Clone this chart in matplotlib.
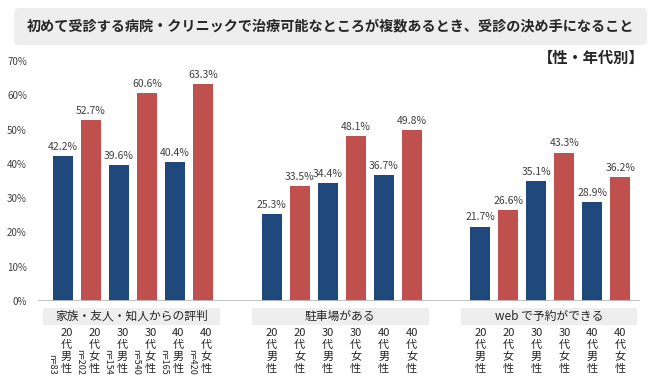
import numpy as np
import matplotlib.pyplot as plt
from matplotlib.patches import FancyBboxPatch, Rectangle
import matplotlib.transforms as mtransforms

plt.rcParams['font.family'] = ['Noto Sans CJK JP', 'DejaVu Sans']

title = '初めて受診する病院・クリニックで治療可能なところが複数あるとき、受診の決め手になること'
subtitle = '【性・年代別】'

groups = ['家族・友人・知人からの評判', '駐車場がある', 'web で予約ができる']
sub_labels = [['20', '代', '男', '性'], ['20', '代', '女', '性'],
              ['30', '代', '男', '性'], ['30', '代', '女', '性'],
              ['40', '代', '男', '性'], ['40', '代', '女', '性']]
n_counts = [83, 202, 154, 540, 165, 420]

reputation = [42.2, 52.7, 39.6, 60.6, 40.4, 63.3]
parking = [25.3, 33.5, 34.4, 48.1, 36.7, 49.8]
web_booking = [21.7, 26.6, 35.1, 43.3, 28.9, 36.2]
values = [reputation, parking, web_booking]

yticks = [0, 10, 20, 30, 40, 50, 60, 70]

BLUE = '#1f497d'
RED = '#c0504d'
GROUP_STEP = 7.45
BAR_W = 0.72

fig = plt.figure(figsize=(6.6, 3.78), dpi=100)
ax = fig.add_axes([38 / 660, 77 / 378, 602 / 660, 240 / 378])


def px_to_axes(py):
    # pixel row in the figure -> axes y fraction (0% line at row 301)
    return (301 - py) / 240


# title box
box = FancyBboxPatch((14 / 660, (378 - 45) / 378), 633 / 660, 37 / 378,
                     boxstyle='round,pad=0,rounding_size=0.008',
                     transform=fig.transFigure, facecolor='#eeeeee',
                     edgecolor='none')
fig.patches.append(box)
fig.text(330 / 660, (378 - 26) / 378, title, ha='center', va='center',
         fontsize=10.2, fontweight='bold', color='#262626')
fig.text(645 / 660, (378 - 58) / 378, subtitle, ha='right', va='center',
         fontsize=11, fontweight='bold', color='#262626')

trans = mtransforms.blended_transform_factory(ax.transData, ax.transAxes)

for g, (name, vals) in enumerate(zip(groups, values)):
    x0 = g * GROUP_STEP
    xs = x0 + np.arange(len(vals))
    colors = [BLUE if i % 2 == 0 else RED for i in range(len(vals))]
    ax.bar(xs, vals, width=BAR_W, color=colors, zorder=2)
    for x, v in zip(xs, vals):
        ax.text(x, v + 1.2, f'{v:.1f}%', ha='center', va='bottom',
                fontsize=7.5, color='#404040')
    # category box
    ax.add_patch(Rectangle((x0 - 0.7, -0.1), 6.3, 0.071, transform=trans,
                           facecolor='#eeeeee', edgecolor='none',
                           clip_on=False))
    ax.text(x0 + 2.45, -0.0645, name, transform=trans, ha='center',
            va='center', fontsize=8.5, color='#262626')
    shift = 0.12 if g == 0 else 0.0
    for i, x in enumerate(xs):
        for k, ch in enumerate(sub_labels[i]):
            ax.text(x + shift, px_to_axes(333.5 + 11.8 * k), ch,
                    transform=trans, ha='center', va='center',
                    fontsize=8, color='#262626')
        if g == 0:
            ax.text(x - 0.4, px_to_axes(375), f'n={n_counts[i]}',
                    transform=trans, ha='center', va='bottom',
                    rotation=-90, fontsize=6.5, color='#262626')

ax.axhline(0, color='#bfbfbf', lw=2, zorder=3)
ax.set_xlim(-0.89, 20.6)
ax.set_ylim(0, 70)
ax.set_yticks(yticks)
ax.set_yticklabels([f'{t}%' for t in yticks], fontsize=7, color='#404040')
ax.tick_params(axis='y', length=0, pad=8)
ax.set_xticks([])
for s in ax.spines.values():
    s.set_visible(False)

fig.savefig('out.png', dpi=100)
